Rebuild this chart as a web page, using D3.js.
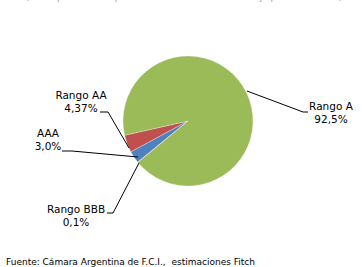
<!DOCTYPE html>
<html>
<head>
<meta charset="utf-8">
<script src="https://cdn.jsdelivr.net/npm/d3@7"></script>
<style>
  body { margin: 0; background: #fff; }
  text { font-family: "DejaVu Sans", sans-serif; fill: #000; }
</style>
</head>
<body>
<div id="chart"></div>
<script>
const width = 362;
const height = 267;

// slice data, in drawing order (counter-clockwise from the red slice)
const categories = ["Rango AA", "AAA", "Rango BBB", "Rango A"];
const values = [4.37, 3.0, 0.1, 92.5];
const valueLabels = ["4,37%", "3,0%", "0,1%", "92,5%"];
const sliceColors = ["#C0504D", "#4F81BD", "#8064A2", "#9BBB59"];

const title = "(Participación en el patrimonio de los FCI de renta fija por calificación)";
const source = "Fuente: Cámara Argentina de F.C.I.,  estimaciones Fitch";

const cx = 188, cy = 121, radius = 65;
const start = 257.3 * Math.PI / 180;

const svg = d3.select("#chart")
    .append("svg")
    .attr("width", width)
    .attr("height", height);

// top title, cut off by the crop of the original
svg.append("text")
    .attr("x", 184)
    .attr("y", 0)
    .attr("text-anchor", "middle")
    .style("font-size", "9px")
    .style("fill", "#999")
    .text(title);

const pie = d3.pie()
    .sort(null)
    .startAngle(start)
    .endAngle(start - 2 * Math.PI)
    .value(d => d);

const arcs = pie(values);
const arc = d3.arc().innerRadius(0).outerRadius(radius);

const g = svg.append("g").attr("transform", `translate(${cx},${cy})`);

g.selectAll("path")
    .data(arcs)
    .enter()
    .append("path")
    .attr("d", arc)
    .attr("fill", (d, i) => sliceColors[i])
    .attr("stroke", "#fff")
    .attr("stroke-width", 0.3);

// label positions (text centre) and leader lines
const labelPos = [
    { x: 81, y: 99 },
    { x: 48, y: 137 },
    { x: 76, y: 213 },
    { x: 331, y: 110 }
];
const leaderPts = [
    [[100, 112], [108, 112], [129, 148]],
    [[62, 151], [72, 151], [138, 157]],
    [[107, 213], [113, 213], [139, 163]],
    [[308, 112], [303, 112], [247, 91]]
];

const line = d3.line();
svg.selectAll(".leader")
    .data(leaderPts)
    .enter()
    .append("path")
    .attr("class", "leader")
    .attr("d", d => line(d))
    .attr("fill", "none")
    .attr("stroke", "#000")
    .attr("stroke-width", 1);

const labels = svg.selectAll(".lbl")
    .data(categories)
    .enter()
    .append("text")
    .attr("class", "lbl")
    .attr("text-anchor", "middle")
    .style("font-size", "10.5px");

labels.append("tspan")
    .attr("x", (d, i) => labelPos[i].x)
    .attr("y", (d, i) => labelPos[i].y)
    .text(d => d);
labels.append("tspan")
    .attr("x", (d, i) => labelPos[i].x)
    .attr("y", (d, i) => labelPos[i].y + 12.5)
    .text((d, i) => valueLabels[i]);

svg.append("text")
    .attr("x", 6)
    .attr("y", 265)
    .style("font-size", "9px")
    .style("white-space", "pre")
    .text(source);
</script>
</body>
</html>
